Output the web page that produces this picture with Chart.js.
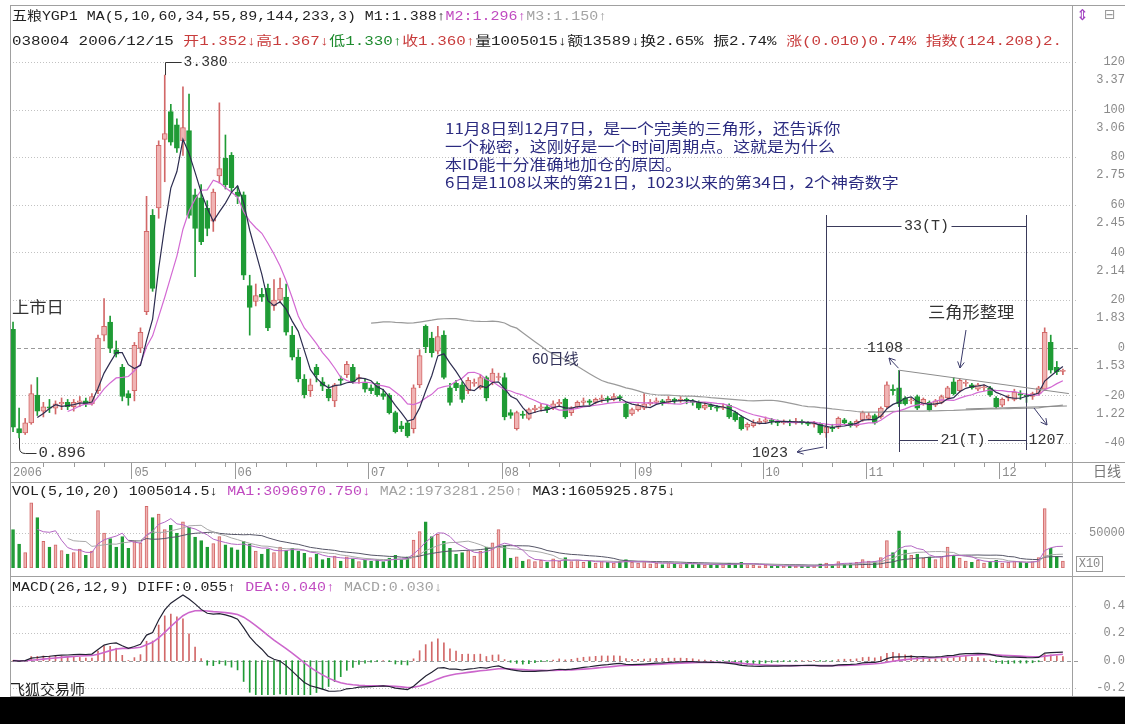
<!DOCTYPE html>
<html>
<head>
<meta charset="utf-8">
<title>五粮YGP1 日线</title>
<script src="https://cdn.jsdelivr.net/npm/chart.js@4.4.1/dist/chart.umd.min.js"></script>
<style>
  body { margin: 0; background: #fff; }
  #wrap { position: relative; width: 1125px; height: 724px; overflow: hidden; background: #fff; }
  canvas { position: absolute; left: 0; }
  .hd { position: absolute; left: 12px; white-space: nowrap; font: 13px "Liberation Mono", "Noto Sans CJK SC", monospace;
        color: #222; line-height: 16px; transform: scaleX(1.15); transform-origin: 0 50%; }
  .clip { position: absolute; left: 12px; overflow: hidden; height: 18px; }
  .clip .hd { left: 0; top: 0; transform: scaleX(1.22); }
  .ln { position: absolute; background: #a0a0a0; }
  .r { color: #c83c3c; } .g { color: #1d8a2d; } .m { color: #c04ac0; } .gy { color: #a3a3a3; }
</style>
</head>
<body>
<div id="wrap">
  <canvas id="price" width="1125" height="482" style="top:0"></canvas>
  <canvas id="vol" width="1125" height="94" style="top:482px"></canvas>
  <canvas id="macd" width="1125" height="120" style="top:576px"></canvas>

  <div class="ln" style="left:10px;top:5px;width:1115px;height:1px"></div>
  <div class="ln" style="left:10px;top:5px;width:1px;height:691px"></div>
  <div class="ln" style="left:1072px;top:5px;width:1px;height:691px"></div>
  <div class="ln" style="left:10px;top:462px;width:1115px;height:1px"></div>
  <div class="ln" style="left:10px;top:482px;width:1115px;height:1px"></div>
  <div class="ln" style="left:10px;top:576px;width:1115px;height:1px"></div>
  <div class="ln" style="left:10px;top:696px;width:1115px;height:1px"></div>
  <div style="position:absolute;left:0;top:697px;width:1125px;height:27px;background:#000"></div>

  <div class="hd" style="top:9px">五粮YGP1 MA(5,10,60,34,55,89,144,233,3) M1:1.388↑<span class="m">M2:1.296↑</span><span class="gy">M3:1.150↑</span></div>
  <div class="clip" style="top:34px;width:1058px">
    <div class="hd">038004 2006/12/15 <span class="r">开1.352↓高1.367↓</span><span class="g">低1.330↑</span><span class="r">收1.360↑</span>量1005015↓额13589↓换2.65% 振2.74% <span class="r">涨(0.010)0.74% 指数(124.208)2.</span></div>
  </div>
  <div class="hd" style="top:484px">VOL(5,10,20) 1005014.5↓ <span class="m">MA1:3096970.750↓</span> <span class="gy">MA2:1973281.250↑</span> MA3:1605925.875↓</div>
  <div class="hd" style="top:580px">MACD(26,12,9) DIFF:0.055↑ <span class="m">DEA:0.040↑</span> <span class="gy">MACD:0.030↓</span></div>
  <div style="position:absolute;left:1076px;top:6px;font:15px 'DejaVu Sans';color:#a040c0">⇕</div>
  <div style="position:absolute;left:1104px;top:6px;font:14px 'DejaVu Sans';color:#999">⊟</div>
</div>

<script>
// daily bars, 2006-04-03 .. 2006-12-15
const openP = [
  1.64,0.96,0.93,1.00,1.19,1.08,1.11,1.10,1.13,1.14,
  1.11,1.14,1.15,1.13,1.22,1.60,1.69,1.50,1.38,1.20,
  1.22,1.51,1.76,2.42,2.47,2.94,3.13,3.04,2.93,3.00,
  2.56,2.54,2.47,2.38,2.69,2.81,2.83,2.58,2.56,1.94,
  1.83,1.88,1.92,1.80,1.84,1.86,1.60,1.45,1.30,1.22,
  1.38,1.28,1.23,1.15,1.30,1.33,1.38,1.30,1.27,1.24,
  1.27,1.20,1.19,1.07,0.98,1.00,0.96,1.26,1.66,1.58,
  1.49,1.60,1.24,1.27,1.26,1.22,1.27,1.24,1.31,1.28,
  1.31,1.31,1.07,0.96,1.06,1.03,1.09,1.10,1.11,1.10,
  1.13,1.16,1.07,1.11,1.14,1.15,1.14,1.16,1.17,1.16,
  1.18,1.13,1.06,1.09,1.10,1.13,1.14,1.15,1.14,1.16,
  1.15,1.16,1.15,1.14,1.10,1.12,1.11,1.10,1.12,1.07,
  1.04,0.97,0.98,1.00,1.01,1.02,1.01,1.00,1.01,1.00,
  1.01,1.00,0.99,0.99,0.93,0.97,0.97,1.02,1.00,0.98,
  1.02,1.03,1.05,1.04,1.11,1.23,1.24,1.17,1.15,1.18,
  1.13,1.14,1.12,1.14,1.17,1.28,1.22,1.27,1.26,1.23,
  1.24,1.24,1.17,1.12,1.17,1.16,1.20,1.19,1.18,1.20,
  1.23,1.55,1.38,1.352
];
const highP = [
  1.69,1.10,1.03,1.26,1.31,1.14,1.16,1.15,1.17,1.16,
  1.16,1.18,1.17,1.20,1.60,1.85,1.73,1.56,1.40,1.22,
  1.55,1.65,2.55,2.46,2.93,3.38,3.18,3.08,3.30,3.25,
  2.60,2.63,2.52,2.60,3.19,2.97,2.85,2.62,2.58,2.01,
  1.95,1.92,1.95,1.98,1.99,1.95,1.66,1.50,1.33,1.30,
  1.40,1.31,1.26,1.27,1.32,1.42,1.40,1.33,1.30,1.26,
  1.28,1.23,1.20,1.08,1.01,1.01,1.26,1.50,1.67,1.62,
  1.66,1.63,1.27,1.29,1.28,1.31,1.30,1.33,1.32,1.37,
  1.34,1.34,1.09,1.08,1.08,1.10,1.12,1.13,1.12,1.15,
  1.16,1.17,1.11,1.15,1.17,1.16,1.17,1.19,1.18,1.20,
  1.19,1.14,1.10,1.13,1.20,1.16,1.17,1.16,1.18,1.17,
  1.18,1.17,1.16,1.15,1.14,1.13,1.12,1.13,1.13,1.08,
  1.05,1.00,1.02,1.03,1.04,1.03,1.02,1.02,1.02,1.03,
  1.02,1.01,1.01,1.00,0.99,0.99,1.04,1.03,1.01,1.02,
  1.08,1.07,1.06,1.11,1.28,1.26,1.36,1.18,1.17,1.19,
  1.17,1.15,1.16,1.19,1.25,1.31,1.30,1.29,1.27,1.27,
  1.26,1.25,1.18,1.17,1.19,1.23,1.22,1.20,1.21,1.25,
  1.65,1.60,1.42,1.367
];
const lowP = [
  0.94,0.896,0.92,0.99,1.05,1.04,1.07,1.06,1.09,1.09,
  1.08,1.11,1.11,1.12,1.20,1.56,1.48,1.45,1.15,1.12,
  1.15,1.48,1.74,1.90,2.40,2.65,2.90,2.85,2.83,2.40,
  2.00,2.22,2.28,2.31,2.64,2.60,2.58,2.50,1.98,1.60,
  1.80,1.83,1.63,1.77,1.82,1.60,1.43,1.28,1.17,1.18,
  1.28,1.22,1.15,1.11,1.26,1.31,1.27,1.27,1.21,1.20,
  1.18,1.16,1.06,0.93,0.94,0.90,0.93,1.24,1.48,1.45,
  1.47,1.30,1.12,1.22,1.14,1.20,1.25,1.23,1.15,1.26,
  1.29,1.02,1.03,0.95,1.03,1.02,1.07,1.08,1.07,1.09,
  1.11,1.03,1.05,1.10,1.12,1.12,1.13,1.14,1.14,1.15,
  1.15,1.03,1.05,1.08,1.09,1.12,1.13,1.12,1.13,1.13,
  1.14,1.13,1.12,1.09,1.09,1.09,1.08,1.09,1.03,1.01,
  0.95,0.95,0.97,0.99,1.00,0.99,0.98,0.99,0.98,0.99,
  0.99,0.98,0.97,0.92,0.90,0.94,0.96,0.99,0.97,0.97,
  1.01,1.02,0.99,1.03,1.10,1.19,1.11,1.12,1.13,1.09,
  1.12,1.08,1.11,1.13,1.16,1.19,1.21,1.25,1.23,1.22,
  1.22,1.18,1.10,1.11,1.15,1.15,1.16,1.14,1.16,1.19,
  1.22,1.34,1.33,1.330
];
const closeP = [
  0.97,0.93,1.00,1.20,1.08,1.11,1.10,1.13,1.14,1.11,
  1.14,1.15,1.13,1.18,1.58,1.66,1.51,1.47,1.18,1.17,
  1.53,1.62,2.31,1.92,2.90,2.98,2.92,2.88,3.02,2.42,
  2.33,2.24,2.33,2.58,2.74,2.63,2.61,2.55,2.01,1.79,
  1.87,1.86,1.65,1.84,1.92,1.62,1.45,1.30,1.19,1.26,
  1.33,1.25,1.17,1.26,1.29,1.40,1.28,1.31,1.23,1.22,
  1.19,1.18,1.07,0.94,0.96,0.91,1.24,1.46,1.52,1.48,
  1.59,1.31,1.14,1.24,1.16,1.29,1.27,1.31,1.17,1.34,
  1.31,1.04,1.05,1.07,1.05,1.09,1.10,1.11,1.09,1.13,
  1.14,1.04,1.10,1.14,1.15,1.14,1.16,1.17,1.16,1.18,
  1.17,1.04,1.09,1.12,1.13,1.14,1.15,1.14,1.16,1.15,
  1.16,1.15,1.14,1.10,1.12,1.11,1.10,1.11,1.04,1.02,
  0.96,0.99,1.00,1.01,1.02,1.01,1.00,1.01,1.00,1.01,
  1.00,0.99,0.99,0.93,0.97,0.96,1.03,1.00,0.98,1.01,
  1.07,1.05,1.00,1.10,1.26,1.22,1.13,1.13,1.15,1.10,
  1.16,1.09,1.15,1.18,1.24,1.20,1.29,1.27,1.24,1.26,
  1.24,1.19,1.11,1.16,1.17,1.21,1.19,1.18,1.20,1.24,
  1.62,1.36,1.35,1.36
];
// volume in axis units (the "50000" tick)
const volume = [
  55000,34000,22000,93000,72000,38000,30000,33000,25000,20000,
  22000,27000,18000,24000,82000,50000,42000,30000,45000,28000,
  39000,36000,88000,72000,77000,55000,61000,50000,66000,58000,
  44000,39000,30000,35000,45000,33000,29000,26000,38000,34000,
  24000,20000,27000,22000,30000,25000,28000,24000,21000,15000,
  20000,12000,14000,17000,10000,16000,13000,9000,11000,10000,
  12000,9000,14000,18000,12000,16000,40000,52000,66000,45000,
  48000,38000,28000,20000,22000,25000,17000,24000,30000,36000,
  55000,32000,14000,16000,10000,12000,9000,11000,8000,13000,
  10000,15000,9000,11000,8000,10000,7000,9000,8000,7000,
  10000,12000,8000,7000,9000,6000,7000,5000,8000,6000,
  5000,7000,5000,6000,4000,5000,4000,5000,7000,6000,
  8000,5000,4000,3000,4000,3000,3000,2500,3000,2500,
  3000,2500,3000,6000,7000,5000,9000,6000,7000,8000,
  12000,10000,9000,15000,39000,22000,53000,26000,18000,20000,
  14000,16000,12000,15000,30000,18000,14000,10000,8000,11000,
  7000,9000,11000,7000,8000,10000,8000,7500,9000,15000,
  85000,28000,16800,10050
];

const monthStart = [0, 20, 37, 59, 81, 103, 124, 141, 163];
const monthLbl = ['2006', '05', '06', '07', '08', '09', '10', '11', '12'];

const gridVals = [0.862, 1.188, 1.514, 1.840, 2.166, 2.492, 2.818, 3.144, 3.470];
const pctLabels = ['-40', '-20', '0', '20', '40', '60', '80', '100', '120'];
const priceLabels = ['', '1.22', '1.53', '1.83', '2.14', '2.45', '2.75', '3.06', '3.37'];
const volTicks = [50000];
const volLabels = ['50000'];
const macdTicks = [-0.2, 0, 0.2, 0.4];
const macdLabels = ['-0.2', '0.0', '0.2', '0.4'];

const noteLines = [
  '11月8日到12月7日，是一个完美的三角形，还告诉你',
  '一个秘密，这刚好是一个时间周期点。这就是为什么',
  '本ID能十分准确地加仓的原因。',
  '6日是1108以来的第21日，1023以来的第34日，2个神奇数字'
];

// indicators, the way the software derives them
function sma(src, n) {
  const out = []; let s = 0;
  for (let i = 0; i < src.length; i++) {
    s += src[i];
    if (i >= n) s -= src[i - n];
    out.push(i >= n - 1 ? s / n : null);
  }
  return out;
}
function ema(src, n) {
  const k = 2 / (n + 1), out = [];
  let e = src[0];
  for (let i = 0; i < src.length; i++) { e = i === 0 ? src[0] : src[i] * k + e * (1 - k); out.push(e); }
  return out;
}
const ma5 = sma(closeP, 5), ma10 = sma(closeP, 10), ma60 = sma(closeP, 60);
const vma5 = sma(volume, 5), vma10 = sma(volume, 10), vma20 = sma(volume, 20);
const e12 = ema(closeP, 12), e26 = ema(closeP, 26);
const diff = e12.map((v, i) => v - e26[i]);
const dea = ema(diff, 9);
const macdBar = diff.map((v, i) => 2 * (v - dea[i]));

const labels = closeP.map((c, i) => String(i));
labels.push('');

const UP = '#f0b4b4', UP_EDGE = '#d26868', DN = '#1f9b35';
const isUp = closeP.map((c, i) => c >= openP[i]);

Chart.defaults.animation = false;
Chart.defaults.font.family = '"Liberation Mono", "Noto Sans CJK SC", monospace';
Chart.defaults.plugins.legend.display = false;
Chart.defaults.plugins.tooltip.enabled = false;

function label(ctx, s, x, y, font, color, sx, align) {
  ctx.save();
  ctx.translate(x, y);
  ctx.scale(sx || 1, 1);
  ctx.font = font; ctx.fillStyle = color;
  ctx.textAlign = align || 'left'; ctx.textBaseline = 'middle';
  ctx.fillText(s, 0, 0);
  ctx.restore();
}
function seg(ctx, x1, y1, x2, y2) {
  ctx.beginPath(); ctx.moveTo(x1, y1); ctx.lineTo(x2, y2); ctx.stroke();
}
function arrow(ctx, x1, y1, x2, y2) {
  seg(ctx, x1, y1, x2, y2);
  const a = Math.atan2(y2 - y1, x2 - x1), L = 7;
  ctx.beginPath();
  ctx.moveTo(x2 - L * Math.cos(a - 0.5), y2 - L * Math.sin(a - 0.5));
  ctx.lineTo(x2, y2);
  ctx.lineTo(x2 - L * Math.cos(a + 0.5), y2 - L * Math.sin(a + 0.5));
  ctx.stroke();
}
function hGrid(chart, vals, zero) {
  const { ctx, chartArea: a, scales: { y } } = chart;
  ctx.save();
  ctx.lineWidth = 1;
  vals.forEach(v => {
    const py = Math.round(y.getPixelForValue(v)) + 0.5;
    ctx.strokeStyle = v === zero ? '#9a9a9a' : '#c2c2c2';
    ctx.setLineDash(v === zero ? [4, 3] : [1, 2]);
    seg(ctx, a.left, py, a.right + 6, py);
  });
  ctx.restore();
}

const axisFont = { family: 'Liberation Mono', size: 12 };
// fixed-width right axis; label padding must not eat into the plot height
const yRight = (extra) => Object.assign({
  position: 'right',
  afterFit: s => { s.width = 53; s.paddingTop = 0; s.paddingBottom = 0; },
  grid: { display: false, drawTicks: false },
  border: { display: false }
}, extra);

// ---------- price panel ----------
const priceDeco = {
  id: 'priceDeco',
  beforeDatasetsDraw(chart) { hGrid(chart, gridVals, 1.514); },
  afterDraw(chart) {
    const { ctx, scales: { x, y } } = chart;
    const X = i => x.getPixelForValue(i), Y = p => y.getPixelForValue(p);
    const ink = '#333', navy = '#2b2b80';
    const mono = n => n + 'px "Liberation Mono"';
    const cjk = n => n + 'px "Noto Sans CJK SC"';
    ctx.save();
    ctx.lineWidth = 1;

    // date row ticks
    ctx.strokeStyle = '#9a9a9a';
    monthStart.forEach(i => { const px = Math.round(X(i) - 3) + 0.5; seg(ctx, px, 463, px, 479); });
    for (let i = 5; i < closeP.length; i += 5) {
      if (monthStart.some(m => Math.abs(m - i) < 2)) continue;
      const px = Math.round(X(i)) + 0.5; seg(ctx, px, 463, px, 467);
    }
    label(ctx, '日线', 1093, 471, cjk(14), '#777');

    // high / low marks
    ctx.strokeStyle = ink;
    let px = Math.round(X(25)) + 0.5;
    ctx.beginPath(); ctx.moveTo(px, Y(3.38)); ctx.lineTo(px, 62.5); ctx.lineTo(px + 16, 62.5); ctx.stroke();
    label(ctx, '3.380', px + 18, 62, mono(14), ink, 1.05);
    px = Math.round(X(1)) + 0.5;
    ctx.beginPath(); ctx.moveTo(px, Y(0.896)); ctx.lineTo(px, 448);
    ctx.quadraticCurveTo(px, 453.5, px + 6, 453.5); ctx.lineTo(px + 17, 453.5); ctx.stroke();
    label(ctx, '0.896', px + 19, 453, mono(15), ink, 1.05);
    label(ctx, '上市日', 12, 307, cjk(16), ink, 1.08);

    // note
    noteLines.forEach((s, k) => label(ctx, s, 445, 128 + k * 18, cjk(15), navy, 1.13));
    label(ctx, '60日线', 532, 358, cjk(15), '#33335a');

    // 33(T) bracket: 1023 .. 1207
    const xa = Math.round(X(134)) + 0.5, xb = Math.round(X(167)) + 0.5, xc = Math.round(X(146)) + 0.5;
    ctx.strokeStyle = '#3a3a5a';
    seg(ctx, xa, 215, xa, 449);
    seg(ctx, xb, 215, xb, 450);
    let mid = (xa + xb) / 2;
    seg(ctx, xa, 226.5, mid - 25, 226.5); seg(ctx, mid + 25, 226.5, xb, 226.5);
    label(ctx, '33(T)', mid, 226, mono(15), ink, 1, 'center');
    // 21(T) bracket: 1108 .. 1207
    seg(ctx, xc, Y(1.36), xc, 452);
    mid = (xc + xb) / 2;
    seg(ctx, xc, 440.5, mid - 25, 440.5); seg(ctx, mid + 25, 440.5, xb, 440.5);
    label(ctx, '21(T)', mid, 440, mono(15), ink, 1, 'center');

    // triangle
    ctx.strokeStyle = '#8c8c8c';
    seg(ctx, X(146), Y(1.36), X(173) + 6, Y(1.20));
    seg(ctx, X(157), Y(1.095), X(173) + 4, Y(1.115));

    // labels and arrows
    ctx.strokeStyle = '#3a3a6a';
    label(ctx, '1023', 752, 453, mono(15), ink);
    arrow(ctx, xa - 3, 447, 797, 452);
    label(ctx, '1108', 867, 348, mono(15), ink);
    arrow(ctx, xc - 1, Y(1.36) - 2, 889, 358);
    label(ctx, '三角形整理', 928, 312, cjk(16), ink, 1.08);
    arrow(ctx, 966, 330, 960, 368);
    label(ctx, '1207', xb + 2, 440, mono(15), ink);
    arrow(ctx, 1034, 408, 1047, 425);
    ctx.restore();
  }
};

new Chart(document.getElementById('price'), {
  type: 'bar',
  data: {
    labels,
    datasets: [
      { type: 'line', data: ma5, borderColor: '#2d2d50', borderWidth: 1.2, pointRadius: 0, order: 0 },
      { type: 'line', data: ma10, borderColor: '#d36ad3', borderWidth: 1.2, pointRadius: 0, order: 0 },
      { type: 'line', data: ma60, borderColor: '#9a9a9a', borderWidth: 1.2, pointRadius: 0, order: 0 },
      { data: openP.map((o, i) => [o, closeP[i]]), backgroundColor: isUp.map(u => u ? UP : DN),
        borderColor: isUp.map(u => u ? UP_EDGE : DN), borderWidth: 1, borderSkipped: false,
        barThickness: 5, minBarLength: 1, grouped: false, order: 1 },
      { data: lowP.map((l, i) => [l, highP[i]]), backgroundColor: isUp.map(u => u ? UP_EDGE : DN),
        barThickness: 1, grouped: false, order: 2 }
    ]
  },
  options: {
    responsive: false, devicePixelRatio: 1, events: [],
    layout: { padding: { left: 10, top: 52, right: 0, bottom: 0 } },
    scales: {
      x: {
        offset: true,
        afterFit: s => { s.height = 20; s.paddingLeft = 0; s.paddingRight = 0; },
        grid: { display: false, drawTicks: false },
        border: { display: false },
        ticks: {
          autoSkip: false, maxRotation: 0, minRotation: 0, align: 'start', padding: 4,
          color: '#8a8a8a', font: axisFont,
          callback: (v, i) => { const k = monthStart.indexOf(i); return k < 0 ? '' : monthLbl[k]; }
        }
      },
      y: yRight({
        min: 0.7317, max: 3.538,
        afterBuildTicks: s => { s.ticks = gridVals.map(v => ({ value: v })); },
        ticks: {
          callback: (v, i) => [pctLabels[i], priceLabels[i]],
          color: '#8a8a8a', font: { family: 'Liberation Mono', size: 12, lineHeight: 1.5 },
          crossAlign: 'far', padding: 24, labelOffset: 9, autoSkip: false
        }
      })
    }
  },
  plugins: [priceDeco]
});

// ---------- volume panel ----------
const volDeco = {
  id: 'volDeco',
  beforeDatasetsDraw(chart) { hGrid(chart, volTicks, null); },
  afterDraw(chart) {
    const { ctx } = chart;
    ctx.save();
    ctx.strokeStyle = '#999'; ctx.lineWidth = 1;
    ctx.strokeRect(1076.5, 74.5, 26, 15);
    label(ctx, 'X10', 1089.5, 82, '12px "Liberation Mono"', '#888', 1, 'center');
    ctx.restore();
  }
};
new Chart(document.getElementById('vol'), {
  type: 'bar',
  data: {
    labels,
    datasets: [
      { type: 'line', data: vma5, borderColor: '#b469c4', borderWidth: 1, pointRadius: 0, order: 0 },
      { type: 'line', data: vma10, borderColor: '#a8a8a8', borderWidth: 1, pointRadius: 0, order: 0 },
      { type: 'line', data: vma20, borderColor: '#555566', borderWidth: 1, pointRadius: 0, order: 0 },
      { data: volume, backgroundColor: isUp.map(u => u ? UP : DN), borderColor: isUp.map(u => u ? UP_EDGE : DN),
        borderWidth: 1, borderSkipped: false, barThickness: 3, order: 1 }
    ]
  },
  options: {
    responsive: false, devicePixelRatio: 1, events: [],
    layout: { padding: { left: 10, top: 15, right: 0, bottom: 8 } },
    scales: {
      x: { display: false, offset: true },
      y: yRight({
        min: 0, max: 101429,
        afterBuildTicks: s => { s.ticks = volTicks.map(v => ({ value: v })); },
        ticks: { callback: (v, i) => volLabels[i], color: '#8a8a8a', font: axisFont, crossAlign: 'far', padding: 17 }
      })
    }
  },
  plugins: [volDeco]
});

// ---------- MACD panel ----------
const macdDeco = {
  id: 'macdDeco',
  beforeDatasetsDraw(chart) { hGrid(chart, macdTicks, 0); },
  afterDraw(chart) {
    label(chart.ctx, '飞狐交易师', 10, 113, '15px "Noto Sans CJK SC"', '#222');
  }
};
new Chart(document.getElementById('macd'), {
  type: 'bar',
  data: {
    labels,
    datasets: [
      { type: 'line', data: diff, borderColor: '#222233', borderWidth: 1.2, pointRadius: 0, order: 0 },
      { type: 'line', data: dea, borderColor: '#cc66cc', borderWidth: 1.6, pointRadius: 0, order: 0 },
      { data: macdBar, backgroundColor: macdBar.map(v => v >= 0 ? '#d26868' : DN), barThickness: 1, order: 1 }
    ]
  },
  options: {
    responsive: false, devicePixelRatio: 1, events: [],
    layout: { padding: { left: 10, top: 16, right: 0, bottom: 1 } },
    scales: {
      x: { display: false, offset: true },
      y: yRight({
        min: -0.25, max: 0.5,
        afterBuildTicks: s => { s.ticks = macdTicks.map(v => ({ value: v })); },
        ticks: { callback: (v, i) => macdLabels[i], color: '#8a8a8a', font: axisFont, crossAlign: 'far', padding: 24 }
      })
    }
  },
  plugins: [macdDeco]
});
</script>
</body>
</html>
